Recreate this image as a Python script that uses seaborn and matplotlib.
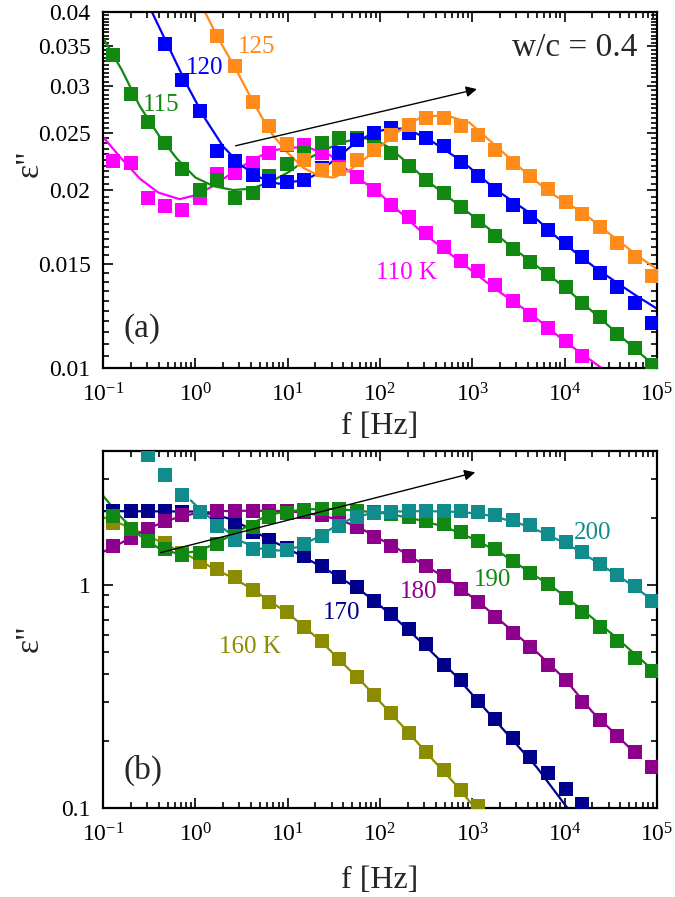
import numpy as np
import seaborn as sns
import matplotlib.pyplot as plt
from matplotlib.ticker import FixedLocator, NullFormatter, LogFormatterSciNotation

# measurement grid (log10 f)
LOGF = [-0.89, -0.70, -0.51, -0.33, -0.14, 0.05, 0.24, 0.43, 0.62, 0.80, 0.99, 1.18, 1.37, 1.56,
        1.75, 1.93, 2.12, 2.31, 2.50, 2.69, 2.88, 3.06, 3.25, 3.44, 3.63, 3.82, 4.01, 4.19, 4.38,
        4.57, 4.76, 4.95]
X_MAJOR = [0.1, 1, 10, 100, 1000, 10000, 100000]

# ---- panel (a): w/c = 0.4, low temperatures ----
eps_110 = [0.0224, 0.0222, 0.0194, 0.0188, 0.0185, 0.0194, 0.0213, 0.0214, 0.0222, 0.0231, 0.0238,
           0.0238, 0.0231, 0.0222, 0.0210, 0.0200, 0.0189, 0.0180, 0.0169, 0.0160, 0.0152, 0.0146,
           0.0138, 0.0130, 0.0123, 0.0117, 0.0111, 0.0105]
eps_115 = [0.0339, 0.0291, 0.0261, 0.0240, 0.0217, 0.0200, 0.0208, 0.0194, 0.0198, 0.0211, 0.0221,
           0.0231, 0.0240, 0.0245, 0.0245, 0.0242, 0.0231, 0.0220, 0.0208, 0.0198, 0.0187, 0.0177,
           0.0167, 0.0159, 0.0151, 0.0144, 0.0137, 0.0129, 0.0122, 0.0114, 0.0108, 0.0101]
eps_120 = [0.0353, 0.0307, 0.0272, 0.0233, 0.0224, 0.0212, 0.0207, 0.0206, 0.0208, 0.0218, 0.0231,
           0.0243, 0.0250, 0.0255, 0.0250, 0.0245, 0.0237, 0.0223, 0.0211, 0.0200, 0.0189, 0.0180,
           0.0171, 0.0163, 0.0154, 0.0145, 0.0137, 0.0129, 0.0119]
eps_125 = [0.0365, 0.0324, 0.0282, 0.0257, 0.0239, 0.0225, 0.0216, 0.0217, 0.0225, 0.0234, 0.0248,
           0.0258, 0.0265, 0.0265, 0.0257, 0.0248, 0.0234, 0.0222, 0.0211, 0.0201, 0.0191, 0.0182,
           0.0173, 0.0163, 0.0154, 0.0143]

fit_110_f = [-1.0, -0.8, -0.6, -0.4, -0.17, 0.0, 0.19, 0.4, 0.62, 0.82, 1.02, 1.22, 1.46, 1.65, 1.81,
             2.0, 2.45, 2.9, 3.25, 3.62, 4.0, 4.4]
fit_110 = [0.0246, 0.0226, 0.0209, 0.0198, 0.0193, 0.0196, 0.0203, 0.0214, 0.0225, 0.0233, 0.0236,
           0.0236, 0.0229, 0.0216, 0.0207, 0.0197, 0.0170, 0.0150, 0.0136, 0.0124, 0.0111, 0.0100]
fit_115_f = [-1.0, -0.8, -0.6, -0.4, -0.2, 0.0, 0.2, 0.41, 0.6, 0.8, 1.0, 1.2, 1.4, 1.6, 1.8, 1.95,
             2.1, 2.3, 2.5, 3.0, 3.5, 4.0, 4.5, 5.0]
fit_115 = [0.0362, 0.0320, 0.0277, 0.0248, 0.0226, 0.0210, 0.0203, 0.0200, 0.0201, 0.0206, 0.0214,
           0.0225, 0.0234, 0.0241, 0.0245, 0.0243, 0.0236, 0.0222, 0.0208, 0.0181, 0.0157, 0.0137,
           0.0117, 0.0100]
fit_120_f = [-0.47, -0.3, -0.1, 0.1, 0.3, 0.5, 0.7, 0.9, 1.1, 1.27, 1.46, 1.7, 1.92, 2.1, 2.29, 2.54,
             2.9, 3.26, 3.62, 3.98, 4.35, 4.76, 5.0]
fit_120 = [0.0400, 0.0352, 0.0303, 0.0265, 0.0237, 0.0220, 0.0210, 0.0205, 0.0207, 0.0211, 0.0222,
           0.0238, 0.0250, 0.0254, 0.0254, 0.0243, 0.0223, 0.0200, 0.0183, 0.0163, 0.0147, 0.0133,
           0.0126]
fit_125_f = [0.104, 0.245, 0.44, 0.625, 0.81, 0.99, 1.17, 1.35, 1.5, 1.67, 1.92, 2.18, 2.43, 2.7,
             2.97, 3.26, 3.55, 3.84, 4.2, 4.5, 4.81, 5.0]
fit_125 = [0.0400, 0.0362, 0.0320, 0.0282, 0.0251, 0.0232, 0.0218, 0.0211, 0.0210, 0.0216, 0.0231,
           0.0250, 0.0265, 0.0268, 0.0260, 0.0237, 0.0216, 0.0198, 0.0183, 0.0168, 0.0154, 0.0147]

# ---- panel (b): high temperatures ----
eps_160 = [1.90, 1.77, 1.66, 1.55, 1.40, 1.27, 1.18, 1.09, 0.95, 0.84, 0.755, 0.65, 0.56, 0.464,
           0.389, 0.323, 0.268, 0.218, 0.179, 0.148, 0.120, 0.102]
eps_170 = [2.15, 2.15, 2.15, 2.15, 2.14, 2.12, 2.05, 1.92, 1.73, 1.60, 1.47, 1.35, 1.22, 1.09, 0.98,
           0.847, 0.74, 0.634, 0.542, 0.44, 0.375, 0.303, 0.251, 0.207, 0.170, 0.144, 0.122, 0.104]
eps_180 = [1.50, 1.62, 1.79, 1.95, 2.07, 2.13, 2.16, 2.16, 2.16, 2.16, 2.15, 2.12, 2.06, 1.97, 1.83,
           1.65, 1.50, 1.35, 1.22, 1.10, 0.96, 0.84, 0.72, 0.61, 0.526, 0.44, 0.375, 0.30, 0.249,
           0.211, 0.179, 0.153]
eps_190 = [2.05, 1.79, 1.58, 1.45, 1.36, 1.40, 1.53, 1.67, 1.82, 2.02, 2.11, 2.18, 2.20, 2.20, 2.15,
           2.12, 2.09, 2.02, 1.94, 1.88, 1.73, 1.58, 1.45, 1.28, 1.13, 1.01, 0.88, 0.76, 0.65, 0.56,
           0.47, 0.41]
eps_200 = [3.83, 3.13, 2.53, 2.14, 1.84, 1.60, 1.46, 1.43, 1.44, 1.53, 1.66, 1.85, 2.02, 2.11, 2.13,
           2.15, 2.15, 2.15, 2.15, 2.13, 2.07, 1.96, 1.86, 1.70, 1.56, 1.41, 1.24, 1.11, 0.99, 0.847]

fit_160_f = [-1.0, -0.8, -0.6, -0.4, -0.2, 0.0, 0.2, 0.4, 0.6, 0.8, 1.0, 1.2, 1.4, 1.6, 1.8, 2.0,
             2.3, 2.6, 2.8, 3.03]
fit_160 = [2.02, 1.88, 1.73, 1.58, 1.44, 1.31, 1.19, 1.08, 0.97, 0.85, 0.75, 0.64, 0.54, 0.445, 0.37,
           0.30, 0.22, 0.16, 0.13, 0.10]
fit_170_f = [-1.0, 0.0, 0.2, 0.4, 0.6, 0.8, 1.0, 1.2, 1.4, 1.6, 1.8, 2.0, 2.2, 2.5, 2.8, 3.1, 3.4,
             3.7, 4.03]
fit_170 = [2.15, 2.14, 2.08, 1.97, 1.78, 1.60, 1.46, 1.32, 1.19, 1.06, 0.94, 0.81, 0.69, 0.53, 0.40,
           0.29, 0.21, 0.152, 0.10]
fit_180_f = [-1.0, -0.8, -0.6, -0.4, -0.2, 0.0, 0.3, 0.6, 1.0, 1.2, 1.4, 1.6, 1.8, 2.0, 2.2, 2.5,
             2.8, 3.1, 3.4, 3.7, 4.0, 4.3, 4.6, 4.8]
fit_180 = [1.41, 1.55, 1.72, 1.88, 2.01, 2.10, 2.15, 2.16, 2.15, 2.11, 2.04, 1.94, 1.79, 1.61, 1.45,
           1.22, 1.02, 0.82, 0.64, 0.50, 0.38, 0.27, 0.205, 0.17]
fit_190_f = [-1.0, -0.82, -0.6, -0.38, -0.17, 0.05, 0.25, 0.48, 0.77, 0.92, 1.2, 1.5, 1.8, 2.1, 2.4,
             2.7, 3.0, 3.3, 3.6, 3.9, 4.2, 4.5, 4.8, 5.0]
fit_190 = [2.52, 2.05, 1.67, 1.45, 1.38, 1.43, 1.56, 1.76, 2.05, 2.12, 2.19, 2.20, 2.15, 2.09, 1.97,
           1.83, 1.62, 1.40, 1.16, 0.96, 0.77, 0.61, 0.475, 0.40]
fit_200_f = [-0.05, 0.1, 0.3, 0.5, 0.7, 0.9, 1.1, 1.3, 1.5, 1.7, 1.9, 2.1, 2.5, 2.9, 3.2, 3.5, 3.8,
             4.1, 4.4, 4.7, 5.0]
fit_200 = [2.40, 2.10, 1.80, 1.57, 1.46, 1.43, 1.48, 1.62, 1.82, 2.00, 2.10, 2.14, 2.15, 2.13, 2.05,
           1.90, 1.70, 1.47, 1.23, 1.02, 0.83]

series_a = [
    ("110 K", eps_110, 0, fit_110_f, fit_110, "#ff00ff"),
    ("115", eps_115, 0, fit_115_f, fit_115, "#118811"),
    ("120", eps_120, 3, fit_120_f, fit_120, "#0000ff"),
    ("125", eps_125, 6, fit_125_f, fit_125, "#ff8c1a"),
]
series_b = [
    ("160 K", eps_160, 0, fit_160_f, fit_160, "#8c8c00"),
    ("170", eps_170, 0, fit_170_f, fit_170, "#00008c"),
    ("180", eps_180, 0, fit_180_f, fit_180, "#8c008c"),
    ("190", eps_190, 0, fit_190_f, fit_190, "#118811"),
    ("200", eps_200, 2, fit_200_f, fit_200, "#118c8c"),
]

sns.set_style("ticks")
plt.rcParams['font.family'] = ['Liberation Serif', 'DejaVu Serif']
plt.rcParams['mathtext.fontset'] = 'custom'
plt.rcParams['mathtext.rm'] = 'Liberation Serif'
plt.rcParams['mathtext.it'] = 'Liberation Serif:italic'

fig = plt.figure(figsize=(6.75, 8.97), dpi=100)
ax_a = fig.add_axes([0.1526, 0.5897, 0.8207, 0.3969])
ax_b = fig.add_axes([0.1526, 0.0992, 0.8207, 0.3980])

f_grid = 10 ** np.array(LOGF)
x_minor = [m * d for d in X_MAJOR[:-1] for m in range(2, 10)]


def draw(ax, series):
    for name, vals, k0, ff, fv, col in series:
        sns.lineplot(x=10 ** np.array(ff), y=fv, color=col, lw=1.6, ax=ax, zorder=2)
        sns.scatterplot(x=f_grid[k0:k0 + len(vals)], y=vals, marker='s', s=95, color=col,
                        linewidth=0, ax=ax, zorder=3, clip_on=True)


def style(ax, xpad, ylab_y):
    ax.set_xscale('log')
    ax.set_yscale('log')
    ax.set_xlim(0.1, 1e5)
    ax.xaxis.set_major_locator(FixedLocator(X_MAJOR))
    ax.xaxis.set_minor_locator(FixedLocator(x_minor))
    ax.xaxis.set_major_formatter(LogFormatterSciNotation())
    ax.xaxis.set_minor_formatter(NullFormatter())
    ax.tick_params(which='both', direction='in', top=True, right=True, width=1.2, labelsize=17,
                   colors='black')
    ax.tick_params(which='major', length=7)
    ax.tick_params(which='minor', length=4)
    ax.tick_params(axis='y', pad=9)
    ax.tick_params(axis='x', pad=11)
    for s in ax.spines.values():
        s.set_linewidth(1.6)
        s.set_color('black')
    ax.set_xlabel('f [Hz]', fontsize=23, labelpad=xpad)
    ax.set_ylabel('ε"', fontsize=24)
    ax.yaxis.set_label_coords(-0.105, ylab_y)


draw(ax_a, series_a)
style(ax_a, 4, 0.576)
ax_a.set_ylim(0.01, 0.04)
a_major = [0.01, 0.015, 0.02, 0.025, 0.03, 0.035, 0.04]
ax_a.yaxis.set_major_locator(FixedLocator(a_major))
ax_a.yaxis.set_major_formatter(plt.FixedFormatter(['0.01', '0.015', '0.02', '0.025', '0.03',
                                                   '0.035', '0.04']))
ax_a.yaxis.set_minor_locator(FixedLocator(np.arange(0.0105, 0.04, 0.0005)))
ax_a.yaxis.set_minor_formatter(NullFormatter())

draw(ax_b, series_b)
style(ax_b, 14, 0.476)
ax_b.set_ylim(0.1, 4.0)
ax_b.yaxis.set_major_locator(FixedLocator([0.1, 1.0]))
ax_b.yaxis.set_major_formatter(plt.FixedFormatter(['0.1', '1']))
ax_b.yaxis.set_minor_locator(FixedLocator([0.2, 0.3, 0.4, 0.5, 0.6, 0.7, 0.8, 0.9, 2, 3, 4]))
ax_b.yaxis.set_minor_formatter(NullFormatter())

# curve labels
lab_a = [("125", 0.278, 0.902), ("120", 0.184, 0.843), ("115", 0.105, 0.739), ("110 K", 0.547, 0.267)]
for (name, _, _, _, _, col) in series_a:
    for t, x, y in lab_a:
        if t == name:
            ax_a.text(x, y, t, color=col, fontsize=18, ha='center', va='center',
                      transform=ax_a.transAxes)
lab_b = [("160 K", 0.265, 0.451), ("170", 0.43, 0.546), ("180", 0.569, 0.605), ("190", 0.704, 0.639),
         ("200", 0.883, 0.770)]
for (name, _, _, _, _, col) in series_b:
    for t, x, y in lab_b:
        if t == name:
            ax_b.text(x, y, t, color=col, fontsize=18, ha='center', va='center',
                      transform=ax_b.transAxes)

ax_a.text(0.964, 0.899, 'w/c = 0.4', fontsize=24, ha='right', va='center', transform=ax_a.transAxes)
ax_a.text(0.071, 0.112, '(a)', fontsize=24, ha='center', va='center', transform=ax_a.transAxes)
ax_b.text(0.072, 0.106, '(b)', fontsize=24, ha='center', va='center', transform=ax_b.transAxes)

arrow = dict(arrowstyle='-|>', color='black', lw=1.0, mutation_scale=16)
ax_a.annotate('', xy=(1200, 0.0297), xytext=(2.55, 0.0237), arrowprops=arrow, zorder=5)
ax_b.annotate('', xy=(1150, 3.23), xytext=(0.394, 1.39), arrowprops=arrow, zorder=5)

plt.savefig('out.png', dpi=100)
